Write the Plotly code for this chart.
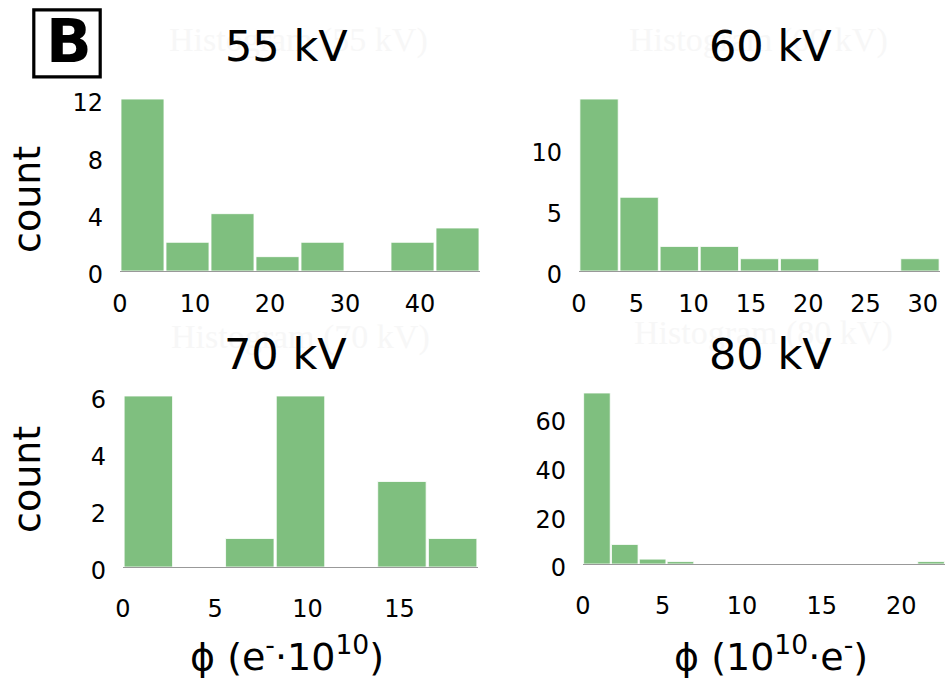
import plotly.graph_objects as go

# Histogram counts per bin (phi in units of 10^10 electrons)
counts_55 = [12, 2, 4, 1, 2, 0, 2, 3]
counts_60 = [14, 6, 2, 2, 1, 1, 0, 0, 1]
counts_70 = [6, 0, 1, 6, 0, 3, 1]
counts_80 = [70, 8, 2, 1, 0, 0, 0, 0, 0, 0, 0, 0, 1]

# Bin widths (10^10 e-)
bin_55 = 6.0
bin_60 = 3.5
bin_70 = 2.75
bin_80 = 1.75

titles = ["55 kV", "60 kV", "70 kV", "80 kV"]
ghost_titles = ["Histogram (55 kV)", "Histogram (60 kV)",
                "Histogram (70 kV)", "Histogram (80 kV)"]
x_dticks = [10, 5, 5, 5]
y_dticks = [4, 5, 2, 20]

W, H = 946, 680
FONT = "DejaVu Sans"
BAR = "rgba(0,128,0,0.5)"


def px(x):
    return x / W


def py(y):
    return 1 - y / H


# plot areas in pixels: (left, right, top, bottom)
areas = [
    (120, 480, 90, 271),
    (579, 940, 90, 271),
    (123, 478, 387, 567),
    (583, 945, 384, 564),
]

data = [(counts_55, bin_55), (counts_60, bin_60),
        (counts_70, bin_70), (counts_80, bin_80)]

fig = go.Figure()
layout = {}
for i, ((counts, b), (l, r, t, btm)) in enumerate(zip(data, areas)):
    n = i + 1
    sx = "" if n == 1 else str(n)
    centers = [b * (k + 0.5) for k in range(len(counts))]
    fig.add_trace(go.Bar(
        x=centers, y=counts, xaxis="x" + sx, yaxis="y" + sx,
        marker=dict(color=BAR, line=dict(color="white", width=0.8)),
        showlegend=False, hoverinfo="x+y",
    ))
    top = i < 2
    layout["xaxis" + sx] = dict(
        domain=[px(l), px(r)], anchor="y" + sx, automargin=False,
        range=[0, b * len(counts)], tick0=0, dtick=x_dticks[i],
        showgrid=False, zeroline=False, showline=True,
        linecolor="#999999", linewidth=1, ticks="",
        tickfont=dict(family=FONT, size=24, color="black"),
        ticklabelstandoff=11 if top else 20,
    )
    layout["yaxis" + sx] = dict(
        domain=[py(btm), py(t)], anchor="x" + sx, automargin=False,
        range=[0, max(counts) / 0.95], tick0=0, dtick=y_dticks[i],
        showgrid=False, zeroline=False, showline=False, ticks="",
        tickfont=dict(family=FONT, size=24, color="black"),
        ticklabelstandoff=16, ticklabelshift=4,
    )

fig.update_layout(
    template="none",
    width=W, height=H, margin=dict(l=0, r=0, t=0, b=0, autoexpand=False),
    paper_bgcolor="white", plot_bgcolor="white",
    bargap=0.045, showlegend=False, **layout,
)

ann = []
# faint original histogram titles
ghost_pos = [(298, 40), (758, 40), (300, 337), (763, 333)]
for txt, (x, y) in zip(ghost_titles, ghost_pos):
    ann.append(dict(text=txt, x=px(x), y=py(y), xref="paper", yref="paper",
                    showarrow=False, xanchor="center", yanchor="middle",
                    font=dict(family="Liberation Serif", size=34, color="#f7f7f7")))

# panel titles
title_pos = [(286, 46), (770, 46), (285, 354), (770, 354)]
for txt, (x, y) in zip(titles, title_pos):
    ann.append(dict(text=txt, x=px(x), y=py(y), xref="paper", yref="paper",
                    showarrow=False, xanchor="center", yanchor="middle",
                    font=dict(family=FONT, size=43, color="black")))

# y-axis labels
for y in (200, 480):
    ann.append(dict(text="count", x=px(27), y=py(y), xref="paper", yref="paper",
                    showarrow=False, textangle=-90, xanchor="center", yanchor="middle",
                    font=dict(family=FONT, size=38, color="black")))

# x-axis labels
ann.append(dict(text="ϕ (e<sup>-</sup>·10<sup>10</sup>)", x=px(287), y=py(654),
                xref="paper", yref="paper", showarrow=False,
                xanchor="center", yanchor="middle",
                font=dict(family=FONT, size=38, color="black")))
ann.append(dict(text="ϕ (10<sup>10</sup>·e<sup>-</sup>)", x=px(771), y=py(654),
                xref="paper", yref="paper", showarrow=False,
                xanchor="center", yanchor="middle",
                font=dict(family=FONT, size=38, color="black")))

# panel letter
ann.append(dict(text="<b>B</b>", x=px(69), y=py(41), xref="paper", yref="paper",
                showarrow=False, xanchor="center", yanchor="middle",
                font=dict(family=FONT, size=60, color="black")))

fig.update_layout(
    annotations=ann,
    shapes=[dict(type="rect", xref="paper", yref="paper",
                 x0=px(33.8), x1=px(100.2), y0=py(76.8), y1=py(9.8),
                 line=dict(color="black", width=3.2), fillcolor="rgba(0,0,0,0)")],
)

fig.write_html("out.html")
